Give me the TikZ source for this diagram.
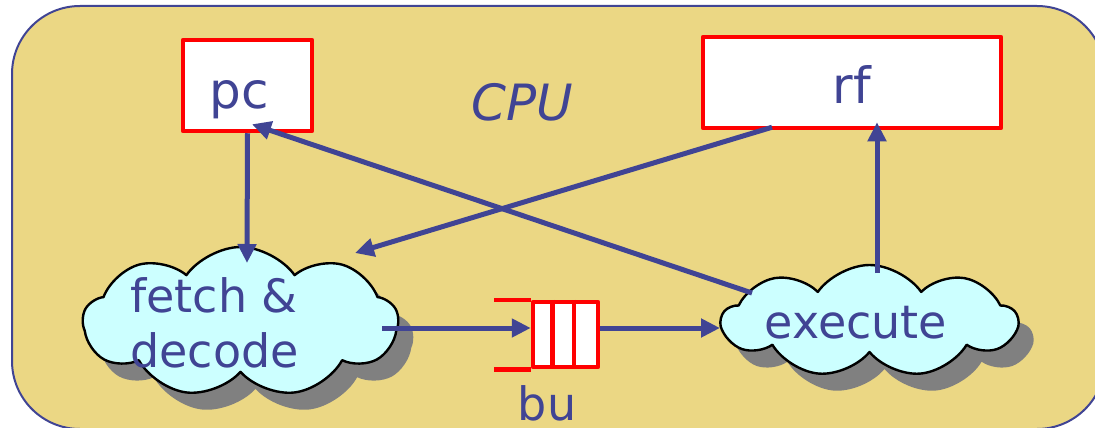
\documentclass[tikz,border=0pt]{standalone}
\usepackage{fontspec}
\setmainfont{DejaVu Sans}
\usetikzlibrary{arrows.meta,shapes.symbols,shadows}
\definecolor{cpubg}{RGB}{235,215,132}
\definecolor{ink}{RGB}{64,68,148}
\definecolor{cloudfill}{RGB}{204,255,255}
\definecolor{shadowgray}{RGB}{128,128,128}
\tikzset{
	reg/.style={draw=red,fill=white,line width=4.5pt,inner sep=0pt},
	puff/.style={cloud,cloud puffs=9,cloud puff arc=110,cloud ignores aspect,draw=black,line width=2.4pt,fill=cloudfill,inner sep=0pt,
		drop shadow={shadow xshift=15pt,shadow yshift=-17pt,fill=shadowgray,opacity=1}},
	wire/.style={draw=ink,line width=5pt,-{Triangle[length=19pt,width=18pt]}},
	lbl/.style={text=ink,inner sep=0pt}
}
\begin{document}
\begin{tikzpicture}[x=1pt,y=-1pt,font=\fontsize{46}{55}\selectfont,line join=round]
	\def\cell{21.67pt} % width of one buffer slot
	\useasboundingbox (0,0) rectangle (1095,428);
	\clip (0,0) rectangle (1095,428);
	\draw[ink,line width=2pt,fill=cpubg,rounded corners=68pt] (12,6) rectangle (1105,429);
	\node[lbl,anchor=base,font=\fontsize{50}{60}\selectfont\itshape] (cpu) at (522,120) {CPU};
	% registers
	\node[reg,minimum width=129pt,minimum height=91pt] (pc) at (247.5,85.5) {};
	\node[lbl,anchor=base,font=\fontsize{50}{60}\selectfont] (pclbl) at (239,108) {pc};
	\node[reg,minimum width=298pt,minimum height=91pt] (rf) at (852,82.5) {};
	\node[lbl,anchor=base,font=\fontsize{50}{60}\selectfont] (rflbl) at (852,103) {rf};
	% pipeline stages
	\node[puff,minimum width=315pt,minimum height=150pt] (fetch) at (240.5,322) {};
	\node[lbl,align=left,anchor=base west] (fetchlbl) at (130,367) {fetch \&\\decode};
	\node[puff,minimum width=295pt,minimum height=112pt] (exec) at (869.5,321) {};
	\node[lbl,anchor=base] (execlbl) at (856,338) {execute};
	% buffer
	\node[reg,minimum width=65pt,minimum height=65pt] (bu) at (565.5,334.5) {};
	\draw[red,line width=4.5pt] (bu.north west) -- ++(-37,0) (bu.south west) -- ++(-37,0);
	\foreach \i in {1,2}
		\draw[red,line width=4.5pt] ([xshift=\i*\cell]bu.north west) -- ([xshift=\i*\cell]bu.south west);
	\node[lbl,anchor=base] (bulbl) at (547,420) {bu};
	% ends of the wires on the clouds
	\coordinate (fetchtop) at (247,263);
	\coordinate (fetchne) at (355,253);
	\coordinate (fetchout) at (382,328);
	\coordinate (execin) at (720,328);
	\coordinate (exectop) at (877,273);
	\coordinate (execnw) at (752,293);
	\draw[wire] (pc.south) -- (fetchtop);
	\draw[wire] ([xshift=-80pt,yshift=3pt]rf.south) -- (fetchne);
	\draw[wire] (execnw) -- ([xshift=4.5pt,yshift=9pt]pc.south);
	\draw[wire] (exectop) -- ([xshift=25pt,yshift=8pt]rf.south);
	\draw[wire] (fetchout) -- (fetchout -| bu.west);
	\draw[wire] (fetchout -| bu.east) -- (execin);
\end{tikzpicture}
\end{document}
